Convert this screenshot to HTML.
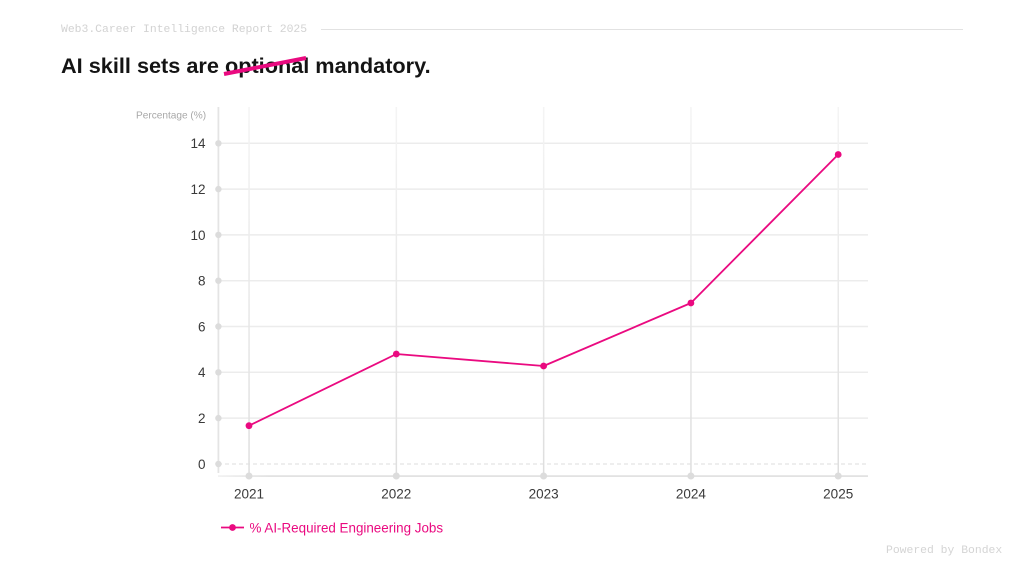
<!DOCTYPE html>
<html>
<head>
<meta charset="utf-8">
<style>
  html, body { margin:0; padding:0; background:#ffffff; }
  body { width:1024px; height:576px; position:relative; overflow:hidden; font-family:"Liberation Sans", sans-serif; }
  .hdr { position:absolute; left:61px; top:22px; font-family:"Liberation Mono", monospace; font-size:11.4px; color:#d2d2d2; line-height:16px; white-space:nowrap; }
  .hline { position:absolute; left:321px; top:29px; width:642px; height:1px; background:#e2e2e2; }
  .title { position:absolute; left:61px; top:52px; font-size:21.7px; font-weight:bold; color:#141414; line-height:28px; white-space:nowrap; }
  .foot { position:absolute; left:886px; top:543px; font-family:"Liberation Mono", monospace; font-size:11.4px; color:#d4d4d4; line-height:16px; white-space:nowrap; }
  svg { position:absolute; left:0; top:0; }
</style>
</head>
<body>
<div class="hdr">Web3.Career Intelligence Report 2025</div>
<div class="hline"></div>
<div class="title">AI skill sets are optional mandatory.</div>
<div class="foot">Powered by Bondex</div>

<svg width="1024" height="576" viewBox="0 0 1024 576" xmlns="http://www.w3.org/2000/svg">
  <defs>
    <linearGradient id="vg" x1="0" y1="0" x2="0" y2="1">
      <stop offset="0" stop-color="#f4f4f4"/>
      <stop offset="1" stop-color="#dedede"/>
    </linearGradient>
    <linearGradient id="xg" x1="0" y1="0" x2="1" y2="0">
      <stop offset="0" stop-color="#f2f2f2"/>
      <stop offset="0.08" stop-color="#e2e2e2"/>
      <stop offset="1" stop-color="#e2e2e2"/>
    </linearGradient>
  </defs>

  <!-- title strike -->
  <line x1="224" y1="74" x2="306" y2="58" stroke="#ea0a80" stroke-width="4" stroke-linecap="butt"/>

  <!-- horizontal gridlines -->
  <g stroke="#ececec" stroke-width="1.5">
    <line x1="218" y1="143.3" x2="868" y2="143.3"/>
    <line x1="218" y1="189.1" x2="868" y2="189.1"/>
    <line x1="218" y1="234.9" x2="868" y2="234.9"/>
    <line x1="218" y1="280.7" x2="868" y2="280.7"/>
    <line x1="218" y1="326.5" x2="868" y2="326.5"/>
    <line x1="218" y1="372.3" x2="868" y2="372.3"/>
    <line x1="218" y1="418.1" x2="868" y2="418.1"/>
  </g>
  <line x1="218" y1="464" x2="868" y2="464" stroke="#e4e4e4" stroke-width="1.2" stroke-dasharray="4 3"/>

  <!-- vertical gridlines -->
  <g stroke="url(#vg)" stroke-width="1.5">
    <rect x="248.3" y="107" width="1.5" height="369" fill="url(#vg)" stroke="none"/>
    <rect x="395.6" y="107" width="1.5" height="369" fill="url(#vg)" stroke="none"/>
    <rect x="542.9" y="107" width="1.5" height="369" fill="url(#vg)" stroke="none"/>
    <rect x="690.2" y="107" width="1.5" height="369" fill="url(#vg)" stroke="none"/>
    <rect x="837.5" y="107" width="1.5" height="369" fill="url(#vg)" stroke="none"/>
  </g>

  <!-- y axis line -->
  <rect x="217.5" y="107" width="1.8" height="366" fill="#e4e4e4"/>
  <!-- x axis line -->
  <rect x="218" y="475.2" width="650" height="1.8" fill="url(#xg)"/>

  <!-- y axis dots -->
  <g fill="#dcdcdc">
    <circle cx="218.4" cy="143.3" r="3.2"/>
    <circle cx="218.4" cy="189.1" r="3.2"/>
    <circle cx="218.4" cy="234.9" r="3.2"/>
    <circle cx="218.4" cy="280.7" r="3.2"/>
    <circle cx="218.4" cy="326.5" r="3.2"/>
    <circle cx="218.4" cy="372.3" r="3.2"/>
    <circle cx="218.4" cy="418.1" r="3.2"/>
    <circle cx="218.4" cy="464" r="3.2"/>
  </g>
  <!-- x axis dots -->
  <g fill="#dcdcdc">
    <circle cx="249" cy="476" r="3.5"/>
    <circle cx="396.3" cy="476" r="3.5"/>
    <circle cx="543.6" cy="476" r="3.5"/>
    <circle cx="690.9" cy="476" r="3.5"/>
    <circle cx="838.2" cy="476" r="3.5"/>
  </g>

  <!-- y labels -->
  <text x="136" y="118.5" font-family="Liberation Sans, sans-serif" font-size="10.1" fill="#a8a8a8">Percentage (%)</text>
  <g font-family="Liberation Sans, sans-serif" font-size="13.5" fill="#3a3a3a" text-anchor="end">
    <text x="205.5" y="148.2">14</text>
    <text x="205.5" y="194">12</text>
    <text x="205.5" y="239.8">10</text>
    <text x="205.5" y="285.6">8</text>
    <text x="205.5" y="331.4">6</text>
    <text x="205.5" y="377.2">4</text>
    <text x="205.5" y="423">2</text>
    <text x="205.5" y="468.9">0</text>
  </g>

  <!-- x labels -->
  <g font-family="Liberation Sans, sans-serif" font-size="13.5" fill="#3a3a3a" text-anchor="middle">
    <text x="249" y="498.5">2021</text>
    <text x="396.3" y="498.5">2022</text>
    <text x="543.6" y="498.5">2023</text>
    <text x="690.9" y="498.5">2024</text>
    <text x="838.2" y="498.5">2025</text>
  </g>

  <!-- series -->
  <polyline points="249,425.7 396.3,354 543.6,366 690.9,303 838.2,154.5" fill="none" stroke="#ea0a80" stroke-width="1.8" stroke-linejoin="round"/>
  <g fill="#ea0a80">
    <circle cx="249" cy="425.7" r="3.4"/>
    <circle cx="396.3" cy="354" r="3.4"/>
    <circle cx="543.6" cy="366" r="3.4"/>
    <circle cx="690.9" cy="303" r="3.4"/>
    <circle cx="838.2" cy="154.5" r="3.4"/>
  </g>

  <!-- legend -->
  <line x1="221" y1="527.5" x2="244" y2="527.5" stroke="#ea0a80" stroke-width="1.8"/>
  <circle cx="232.5" cy="527.5" r="3.4" fill="#ea0a80"/>
  <text x="249.5" y="532.3" font-family="Liberation Sans, sans-serif" font-size="13.4" fill="#ea0a80">% AI-Required Engineering Jobs</text>
</svg>
</body>
</html>
